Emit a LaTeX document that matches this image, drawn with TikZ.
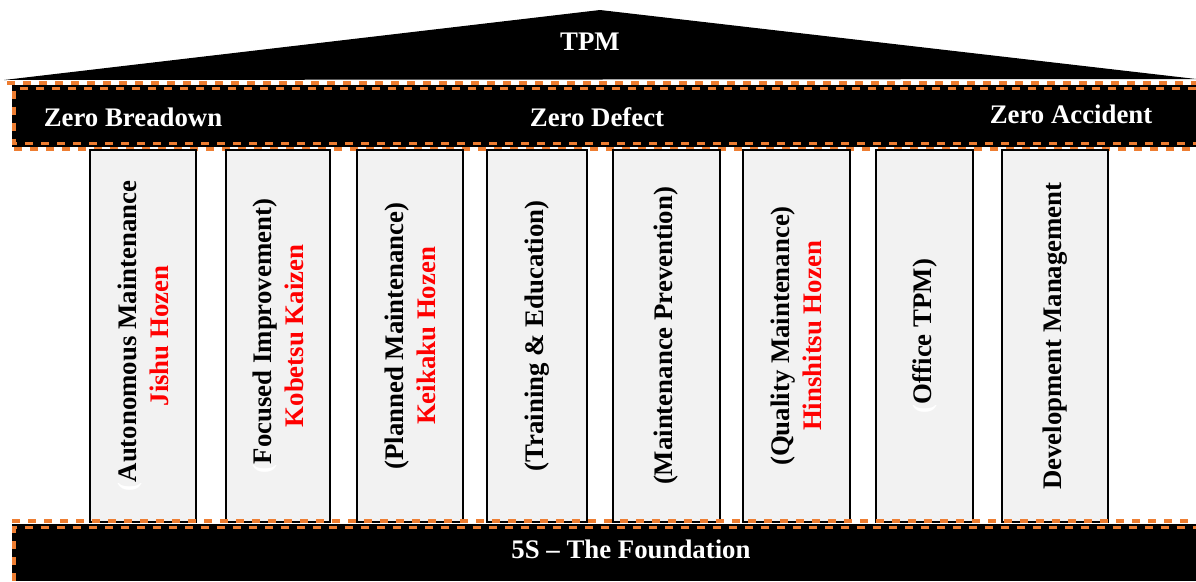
\documentclass[tikz,border=0pt]{standalone}
\usepackage{fontspec}
\setmainfont{Liberation Serif}
\definecolor{dashorange}{HTML}{ED7D31}
\definecolor{pillarfill}{HTML}{F2F2F2}
\definecolor{jpred}{HTML}{FF0000}
\begin{document}
\begin{tikzpicture}[x=1pt,y=-1pt,
  whitetext/.style={text=white,font=\fontsize{26.8}{32}\selectfont\bfseries,inner sep=0pt},
  pillar/.style={draw=black,line width=1.6pt,fill=pillarfill,rotate=90,
    minimum width=372pt,inner sep=0pt,align=center,
    font=\fontsize{26.8}{32}\selectfont\bfseries},
  orangetrim/.style={draw=dashorange,line width=3.2pt,dash pattern=on 8pt off 8pt}]
\useasboundingbox (0,0) rectangle (1196,581);

% roof
\fill[black] (4,80) -- (600,10) -- (1196,79) -- cycle;
\node[whitetext] (tpm) at (590,42) {TPM};

% beam
\fill[black] (12,85) rectangle (1196,147);
\draw[orangetrim] (7,83) -- (1196,83);
\draw[orangetrim] (1196,88.5) -- (14,88.5) -- (14,143.5) -- (1196,143.5);
\draw[orangetrim] (14,149) -- (1196,149);
\node[whitetext] (zb) at (133,117) {Zero Breadown};
\node[whitetext] (zd) at (597,117) {Zero Defect};
\node[whitetext] (za) at (1071,114) {Zero Accident};

% pillars
\node[pillar,minimum height=106pt] (p1) at (143,336)
  {{\color{white}(}Autonomous Maintenance\\{\color{jpred}Jishu Hozen}};
\node[pillar,minimum height=104pt] (p2) at (278,336)
  {{\color{white}(}Focused Improvement)\\{\color{jpred}Kobetsu Kaizen}};
\node[pillar,minimum height=106pt] (p3) at (410,336)
  {(Planned Maintenance)\\{\color{jpred}Keikaku Hozen}};
\node[pillar,minimum height=100pt] (p4) at (537,336)
  {(Training \& Education)};
\node[pillar,minimum height=107pt] (p5) at (666.5,336)
  {(Maintenance Prevention)};
\node[pillar,minimum height=107pt] (p6) at (796.5,336)
  {(Quality Maintenance)\\{\color{jpred}Hinshitsu Hozen}};
\node[pillar,minimum height=97pt] (p7) at (924.5,336)
  {{\color{white}(}Office TPM)};
\node[pillar,minimum height=106pt] (p8) at (1055,336)
  {Development Management};

% foundation
\fill[black] (12,524) rectangle (1196,581);
\draw[orangetrim] (12,521) -- (1196,521);
\draw[orangetrim] (14,581) -- (14,527.5) -- (1196,527.5);
\node[whitetext] (fd) at (631,549) {5S -- The Foundation};
\end{tikzpicture}
\end{document}
